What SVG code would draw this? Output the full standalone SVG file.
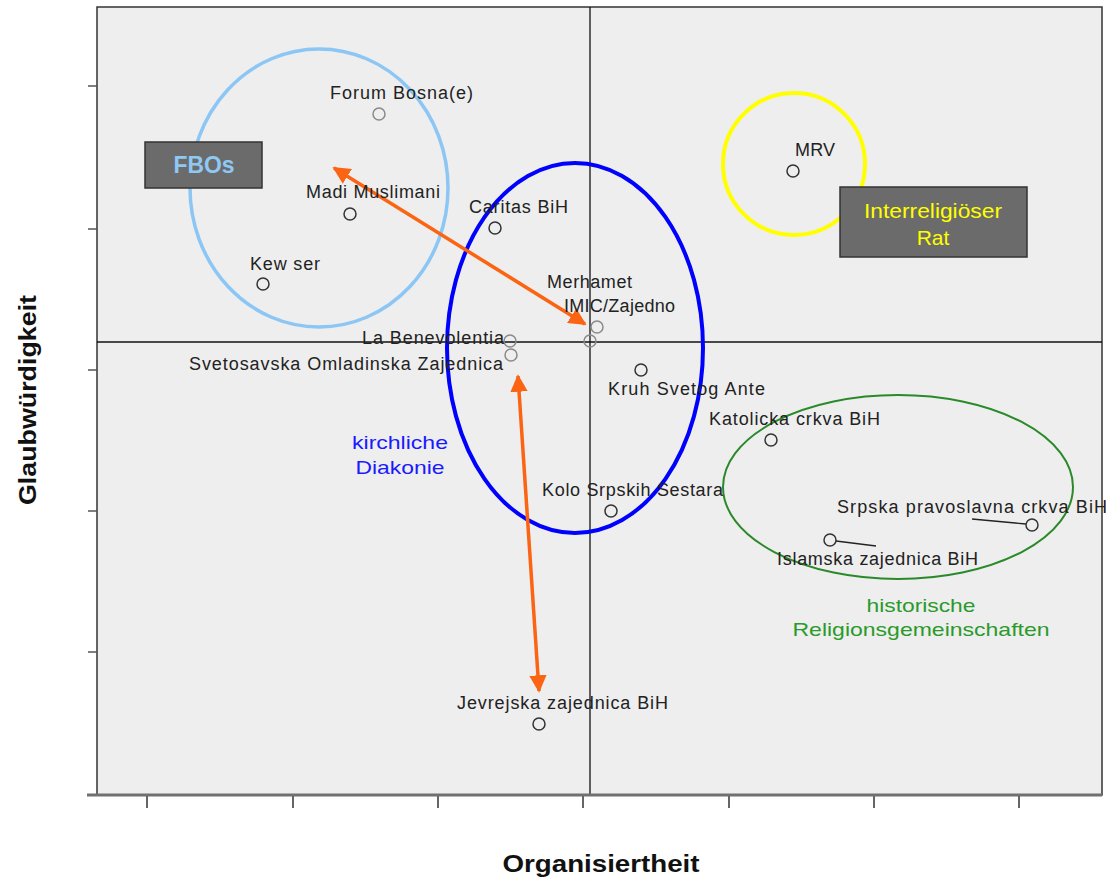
<svg xmlns="http://www.w3.org/2000/svg" width="1106" height="878" viewBox="0 0 1106 878">
<defs>
<style>
.lbl{font-family:"Liberation Sans",Arial,sans-serif;font-size:18px;fill:#222}
.pt{fill:none;stroke:#333;stroke-width:1.5}
.ptg{fill:none;stroke:#8a8a8a;stroke-width:1.5}
.axt{font-family:"Liberation Sans",Arial,sans-serif;font-size:24px;font-weight:bold;fill:#111}
.arrow{stroke:#fb6412;stroke-width:3.5;fill:none;marker-start:url(#ah);marker-end:url(#ah)}
</style>
<marker id="ah" viewBox="0 0 10 10" refX="9" refY="5" markerWidth="5" markerHeight="5" orient="auto-start-reverse" markerUnits="strokeWidth">
<path d="M0,0 L10,5 L0,10 z" fill="#fb6412"/>
</marker>
</defs>
<rect width="1106" height="878" fill="#ffffff"/>
<g id="plot">
<rect x="97" y="7" width="1005" height="788" fill="#eeeeee" stroke="#333" stroke-width="1.5"/>
<line x1="590" y1="7" x2="590" y2="795" stroke="#111" stroke-width="1.3"/>
<line x1="97" y1="342" x2="1102" y2="342" stroke="#111" stroke-width="1.3"/>
<line x1="87" y1="795" x2="1102" y2="795" stroke="#707070" stroke-width="3"/>
<g stroke="#555" stroke-width="1.5">
<line x1="88" y1="86" x2="97" y2="86"/>
<line x1="88" y1="229" x2="97" y2="229"/>
<line x1="88" y1="370" x2="97" y2="370"/>
<line x1="88" y1="511" x2="97" y2="511"/>
<line x1="88" y1="652" x2="97" y2="652"/>
</g>
<g stroke="#666" stroke-width="2">
<line x1="147" y1="796" x2="147" y2="808"/>
<line x1="293" y1="796" x2="293" y2="808"/>
<line x1="438" y1="796" x2="438" y2="808"/>
<line x1="583" y1="796" x2="583" y2="808"/>
<line x1="729" y1="796" x2="729" y2="808"/>
<line x1="874" y1="796" x2="874" y2="808"/>
<line x1="1019" y1="796" x2="1019" y2="808"/>
</g>
<text class="axt" x="601" y="872" text-anchor="middle" textLength="197" lengthAdjust="spacingAndGlyphs">Organisiertheit</text>
<text class="axt" transform="translate(36,400) rotate(-90)" text-anchor="middle" textLength="210" lengthAdjust="spacingAndGlyphs">Glaubwürdigkeit</text>
</g>
<g id="groups">
<ellipse id="fbo-circle" cx="319" cy="188" rx="129" ry="139" fill="none" stroke="#8cc6f5" stroke-width="3.5"/>
<ellipse id="mrv-circle" cx="794" cy="164" rx="71" ry="71" fill="none" stroke="#ffff00" stroke-width="4"/>
<ellipse id="diakonie-ellipse" cx="575" cy="348" rx="128" ry="185" fill="none" stroke="#0000ff" stroke-width="4"/>
<ellipse id="hist-ellipse" cx="898" cy="487" rx="175" ry="92" fill="none" stroke="#2a8a2a" stroke-width="2"/>
</g>
<g id="fbos-box">
<rect x="145" y="142" width="117" height="46" fill="#6b6b6b" stroke="#333" stroke-width="1.5"/>
<text x="204" y="173" text-anchor="middle" font-family="Liberation Sans, Arial, sans-serif" font-size="23" font-weight="bold" fill="#8ec8f4" textLength="61" lengthAdjust="spacingAndGlyphs">FBOs</text>
</g>
<g id="rat-box">
<rect x="840" y="187" width="187" height="70" fill="#6b6b6b" stroke="#333" stroke-width="1.5"/>
<text x="933" y="218" text-anchor="middle" font-family="Liberation Sans, Arial, sans-serif" font-size="21" fill="#ffff00" textLength="138" lengthAdjust="spacingAndGlyphs">Interreligiöser</text>
<text x="933" y="245" text-anchor="middle" font-family="Liberation Sans, Arial, sans-serif" font-size="21" fill="#ffff00">Rat</text>
</g>
<g id="group-labels">
<text x="400" y="449" text-anchor="middle" font-family="Liberation Sans, Arial, sans-serif" font-size="19" fill="#1a1aff" textLength="96" lengthAdjust="spacingAndGlyphs">kirchliche</text>
<text x="400" y="474" text-anchor="middle" font-family="Liberation Sans, Arial, sans-serif" font-size="19" fill="#1a1aff" textLength="89" lengthAdjust="spacingAndGlyphs">Diakonie</text>
<text x="921" y="612" text-anchor="middle" font-family="Liberation Sans, Arial, sans-serif" font-size="19" fill="#2a9a2a" textLength="109" lengthAdjust="spacingAndGlyphs">historische</text>
<text x="921" y="636" text-anchor="middle" font-family="Liberation Sans, Arial, sans-serif" font-size="19" fill="#2a9a2a" textLength="257" lengthAdjust="spacingAndGlyphs">Religionsgemeinschaften</text>
</g>
<g id="connectors">
<line class="arrow" x1="334" y1="168" x2="585" y2="324"/>
<line class="arrow" x1="518" y1="376" x2="539" y2="691"/>
<line x1="972" y1="519" x2="1026" y2="524" stroke="#222" stroke-width="1.3"/>
<line x1="836" y1="541" x2="876" y2="546" stroke="#222" stroke-width="1.3"/>
</g>
<g id="n-forum"><circle class="ptg" cx="379" cy="114" r="6"/><text class="lbl" x="330" y="99" textLength="143" lengthAdjust="spacing">Forum Bosna(e)</text></g>
<g id="n-madi"><circle class="pt" cx="350" cy="214" r="6"/><text class="lbl" x="306" y="198" textLength="134" lengthAdjust="spacing">Madi Muslimani</text></g>
<g id="n-kewser"><circle class="pt" cx="263" cy="284" r="6"/><text class="lbl" x="250" y="270" textLength="70" lengthAdjust="spacing">Kew ser</text></g>
<g id="n-caritas"><circle class="pt" cx="495" cy="228" r="6"/><text class="lbl" x="469" y="213" textLength="99" lengthAdjust="spacing">Caritas BiH</text></g>
<g id="n-merhamet"><circle class="ptg" cx="590" cy="341" r="6"/><text class="lbl" x="547" y="288" textLength="85" lengthAdjust="spacing">Merhamet</text></g>
<g id="n-imic"><circle class="ptg" cx="597" cy="327" r="6"/><text class="lbl" x="564" y="312" textLength="111" lengthAdjust="spacing">IMIC/Zajedno</text></g>
<g id="n-benevolentia"><circle class="ptg" cx="510" cy="341" r="6"/><text class="lbl" x="362" y="344" textLength="142" lengthAdjust="spacing">La Benevolentia</text></g>
<g id="n-svetosavska"><circle class="ptg" cx="511" cy="355" r="6"/><text class="lbl" x="189" y="370" textLength="314" lengthAdjust="spacing">Svetosavska Omladinska Zajednica</text></g>
<g id="n-kruh"><circle class="pt" cx="641" cy="370" r="6"/><text class="lbl" x="608" y="395" textLength="157" lengthAdjust="spacing">Kruh Svetog Ante</text></g>
<g id="n-katolicka"><circle class="pt" cx="771" cy="440" r="6"/><text class="lbl" x="709" y="425" textLength="171" lengthAdjust="spacing">Katolicka crkva BiH</text></g>
<g id="n-srpska"><circle class="pt" cx="1032" cy="525" r="6"/><text class="lbl" x="837" y="513" textLength="270" lengthAdjust="spacing">Srpska pravoslavna crkva BiH</text></g>
<g id="n-islamska"><circle class="pt" cx="830" cy="540" r="6"/><text class="lbl" x="777" y="565" textLength="201" lengthAdjust="spacing">Islamska zajednica BiH</text></g>
<g id="n-kolo"><circle class="pt" cx="611" cy="511" r="6"/><text class="lbl" x="542" y="496" textLength="181" lengthAdjust="spacing">Kolo Srpskih Sestara</text></g>
<g id="n-jevrejska"><circle class="pt" cx="539" cy="724" r="6"/><text class="lbl" x="457" y="709" textLength="211" lengthAdjust="spacing">Jevrejska zajednica BiH</text></g>
<g id="n-mrv"><circle class="pt" cx="793" cy="171" r="6"/><text class="lbl" x="795" y="156" textLength="40" lengthAdjust="spacing">MRV</text></g>
</svg>
